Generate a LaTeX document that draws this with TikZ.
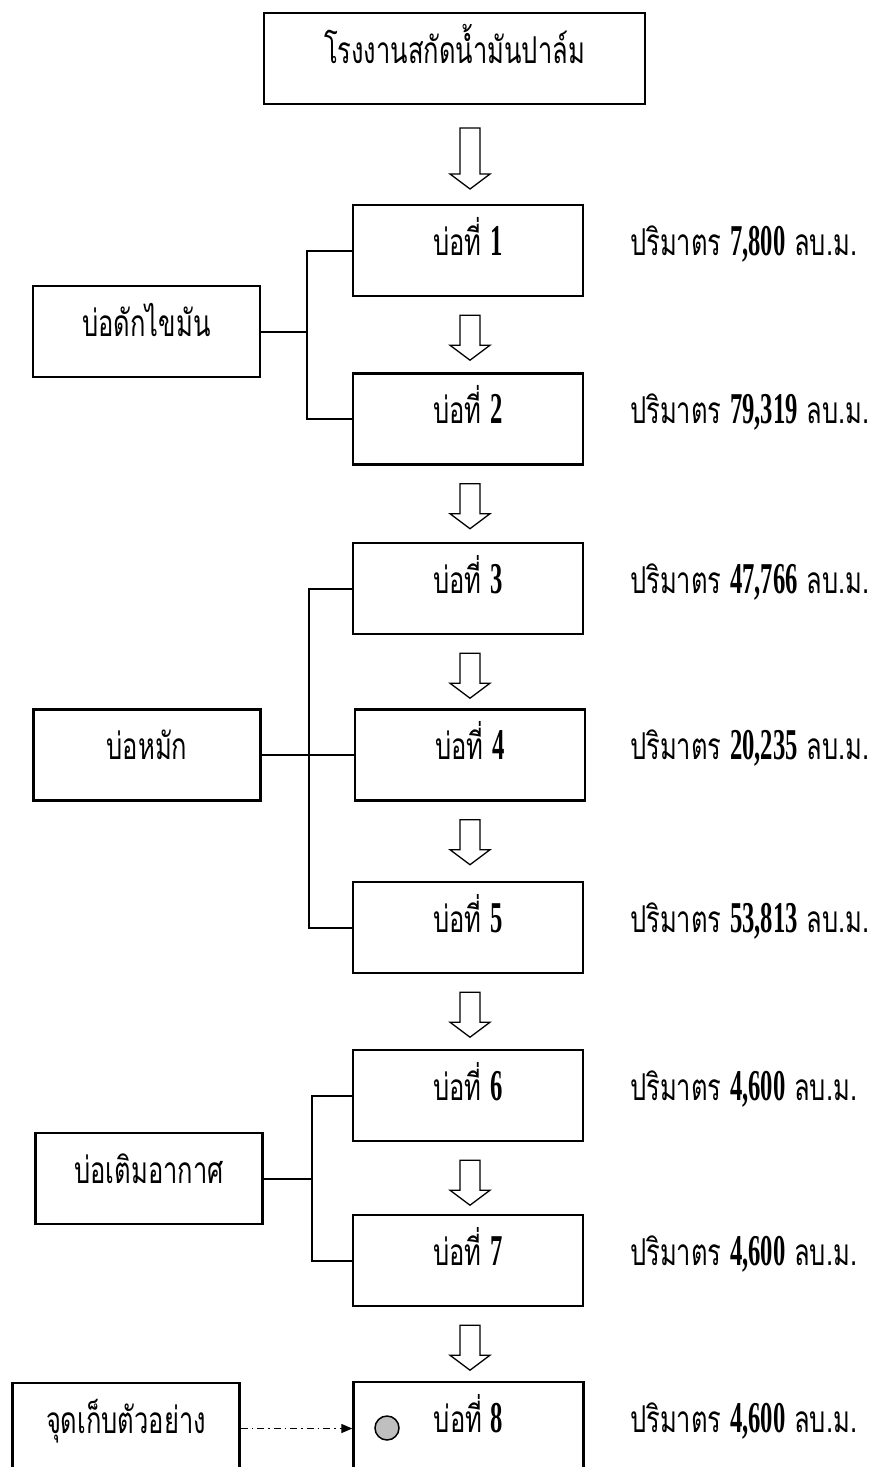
\documentclass[tikz,border=0pt]{standalone}
\usepackage{fontspec}
\usetikzlibrary{arrows.meta,calc}
\newfontfamily\thaifont[Script=Thai,FakeStretch=0.69]{Loma}
\newfontfamily\digfont[FakeStretch=0.56]{Liberation Serif}
\newcommand{\thaitext}{\thaifont\fontsize{37}{42}\selectfont}
\newcommand{\dig}[1]{{\digfont\bfseries\fontsize{44}{44}\selectfont #1}}
\begin{document}
\begin{tikzpicture}[x=1pt,y=-1pt,
  box/.style={draw, line width=2.4pt, minimum height=91, inner sep=0, text height=20, text depth=11, font=\thaitext},
  pond/.style={box, minimum width=230},
  side/.style={box, minimum width=227},
  bracket/.style={line width=2pt},
  vol/.style={anchor=base west, inner sep=0, font=\thaitext},
  sampleline/.style={line width=1.3pt, dash pattern=on 7pt off 4pt on 1.5pt off 4pt, -{Triangle[length=11pt,width=9pt]}},
  pics/blockdown/.style={code={\draw[line width=1.3pt, fill=white, line join=miter] (-10,0) -- (10,0) -- (10,#1-15) -- (20,#1-15) -- (0,#1) -- (-20,#1-15) -- (-10,#1-15) -- cycle;}}
]
\useasboundingbox (0,0) rectangle (888,1467);
\clip (0,0) rectangle (888,1467);

% main column
\node[box, minimum width=381] (B0) at (454.5,58.5) {โรงงานสกัดน้ำมันปาล์ม};
\node[pond] (B1) at (468,250.5) {บ่อที่ \dig{1}};
\node[pond] (B2) at (468,419) {บ่อที่ \dig{2}};
\node[pond] (B3) at (468,588.5) {บ่อที่ \dig{3}};
\node[pond] (B4) at (470,755) {บ่อที่ \dig{4}};
\node[pond] (B5) at (468,927.5) {บ่อที่ \dig{5}};
\node[pond] (B6) at (468,1095.5) {บ่อที่ \dig{6}};
\node[pond] (B7) at (468,1260.5) {บ่อที่ \dig{7}};
\node[pond] (B8) at (468.5,1427.5) {บ่อที่ \dig{8}};

% side boxes
\node[side] (L1) at (146.5,331.5) {บ่อดักไขมัน};
\node[side] (L2) at (147,755) {บ่อหมัก};
\node[side] (L3) at (149,1178.5) {บ่อเติมอากาศ};
\node[side] (L4) at (126,1428.5) {จุดเก็บตัวอย่าง};

% block arrows
\pic at (470,128) {blockdown=61};
\pic at ([xshift=2pt,yshift=-18pt]B1.south) {blockdown=45};
\pic at ([xshift=2pt,yshift=-18pt]B2.south) {blockdown=45};
\pic at ([xshift=2pt,yshift=-18pt]B3.south) {blockdown=45};
\pic at ([xshift=0pt,yshift=-18pt]B4.south) {blockdown=45};
\pic at ([xshift=2pt,yshift=-18pt]B5.south) {blockdown=45};
\pic at ([xshift=2pt,yshift=-18pt]B6.south) {blockdown=45};
\pic at ([xshift=2pt,yshift=-18pt]B7.south) {blockdown=45};

% brackets
\coordinate (j1) at (307,331.5);
\coordinate (j2) at (309,755);
\coordinate (j3) at (312,1178.5);
\draw[bracket] (L1.east) -- (j1);
\draw[bracket] (B1.west) -| (j1) |- (B2.west);
\draw[bracket] (L2.east) -- (B4.west);
\draw[bracket] (B3.west) -| (j2) |- (B5.west);
\draw[bracket] (L3.east) -- (j3);
\draw[bracket] (B6.west) -| (j3) |- (B7.west);

% sampling point
\node[circle, draw, line width=1.5pt, fill=black!25, minimum size=24, inner sep=0] (S) at (387,1428) {};
\draw[sampleline] (L4.east) -- (L4.east -| B8.west);

% volumes
\node[vol] (V1) at (630,255) {ปริมาตร \dig{7,800} ลบ.ม.};
\node[vol] (V2) at (630,423.5) {ปริมาตร \dig{79,319} ลบ.ม.};
\node[vol] (V3) at (630,593) {ปริมาตร \dig{47,766} ลบ.ม.};
\node[vol] (V4) at (630,759.5) {ปริมาตร \dig{20,235} ลบ.ม.};
\node[vol] (V5) at (630,932) {ปริมาตร \dig{53,813} ลบ.ม.};
\node[vol] (V6) at (630,1100) {ปริมาตร \dig{4,600} ลบ.ม.};
\node[vol] (V7) at (630,1265) {ปริมาตร \dig{4,600} ลบ.ม.};
\node[vol] (V8) at (630,1432) {ปริมาตร \dig{4,600} ลบ.ม.};
\end{tikzpicture}
\end{document}
